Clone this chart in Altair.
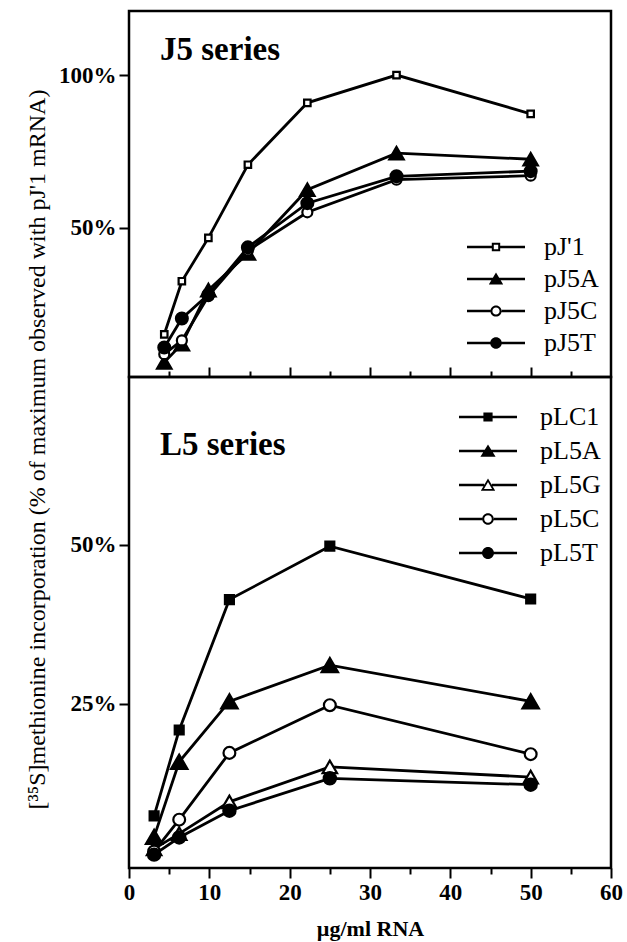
import altair as alt
import pandas as pd

# ---------------- data ----------------
j_dose = [4.39, 6.58, 9.88, 14.8, 22.2, 33.3, 50.0]
j_names = ["pJ'1", "pJ5A", "pJ5C", "pJ5T"]
pJ1 = [15.0, 32.4, 46.6, 70.6, 90.9, 100.0, 87.3]
pJ5A = [5.8, 11.8, 29.5, 41.5, 62.4, 74.4, 72.4]
pJ5C = [8.5, 13.0, 27.5, 42.5, 55.0, 65.7, 67.0]
pJ5T = [10.7, 20.2, 28.0, 43.5, 58.0, 66.8, 68.5]

l_dose = [3.125, 6.25, 12.5, 25.0, 50.0]
l_names = ["pLC1", "pL5A", "pL5G", "pL5C", "pL5T"]
pLC1 = [7.4, 20.9, 41.4, 49.8, 41.5]
pL5A = [4.1, 15.9, 25.4, 31.1, 25.4]
pL5G = [2.2, 4.6, 9.6, 15.1, 13.5]
pL5C = [1.8, 6.8, 17.3, 24.8, 17.1]
pL5T = [1.3, 4.0, 8.2, 13.3, 12.3]

x_ticks = [0, 5, 10, 15, 20, 25, 30, 35, 40, 45, 50, 55, 60]
inner_ticks = [5, 10, 15, 20, 25, 30, 35, 40, 45, 50, 55]
j_yticks = [50, 100]
l_yticks = [25, 50]

j_df = pd.DataFrame([
    {"series": n, "dose": d, "pct": v}
    for n, vals in zip(j_names, [pJ1, pJ5A, pJ5C, pJ5T])
    for d, v in zip(j_dose, vals)
])
l_df = pd.DataFrame([
    {"series": n, "dose": d, "pct": v}
    for n, vals in zip(l_names, [pLC1, pL5A, pL5G, pL5C, pL5T])
    for d, v in zip(l_dose, vals)
])

# ---------------- styles ----------------
SERIF = "Liberation Serif"
W = 482
H_UP = 366
H_LO = 491

j_style = {
    "pJ'1": dict(shape="square", fill="white", size=42),
    "pJ5A": dict(shape="triangle-up", fill="black", size=210),
    "pJ5C": dict(shape="circle", fill="white", size=100),
    "pJ5T": dict(shape="circle", fill="black", size=140),
}
l_style = {
    "pLC1": dict(shape="square", fill="black", size=80),
    "pL5A": dict(shape="triangle-up", fill="black", size=270),
    "pL5G": dict(shape="triangle-up", fill="white", size=210),
    "pL5C": dict(shape="circle", fill="white", size=140),
    "pL5T": dict(shape="circle", fill="black", size=150),
}

# legend glyphs: line + marker, drawn as filled outlines (nonzero winding)
L = 7.25
T = 0.33


def f(v):
    return f"{v:.3f}"


def hline(x0, x1):
    return f"M{f(x0)},{f(-T)}H{f(x1)}V{f(T)}H{f(x0)}Z"


def sq_cw(a):
    return f"M{f(-a)},{f(-a)}H{f(a)}V{f(a)}H{f(-a)}Z"


def sq_ccw(a):
    return f"M{f(-a)},{f(-a)}V{f(a)}H{f(a)}V{f(-a)}Z"


def circ_cw(r):
    return f"M{f(r)},0A{f(r)},{f(r)} 0 1,1 {f(-r)},0A{f(r)},{f(r)} 0 1,1 {f(r)},0Z"


def circ_ccw(r):
    return f"M{f(r)},0A{f(r)},{f(r)} 0 1,0 {f(-r)},0A{f(r)},{f(r)} 0 1,0 {f(r)},0Z"


def tri_pts(w, top, bot):
    return (-w, bot), (0, top), (w, bot)


def tri_cw(w, top, bot):
    (a, b), (c, d), (e, g) = tri_pts(w, top, bot)
    return f"M{f(a)},{f(b)}L{f(c)},{f(d)}L{f(e)},{f(g)}Z"


def tri_ccw(w, top, bot):
    (a, b), (c, d), (e, g) = tri_pts(w, top, bot)
    return f"M{f(a)},{f(b)}L{f(e)},{f(g)}L{f(c)},{f(d)}Z"


def glyph_open_square(a, s):
    return hline(-L, -a) + hline(a, L) + sq_cw(a) + sq_ccw(a - s)


def glyph_filled_square(a):
    return hline(-L, L) + sq_cw(a)


def glyph_open_circle(r, s):
    return hline(-L, -r) + hline(r, L) + circ_cw(r) + circ_ccw(r - s)


def glyph_filled_circle(r):
    return hline(-L, L) + circ_cw(r)


def glyph_filled_tri(w, top, bot):
    return hline(-L, L) + tri_cw(w, top, bot)


def glyph_open_tri(w, top, bot, s):
    xe = w * (-top) / (bot - top)
    side = (w * w + (bot - top) ** 2) ** 0.5
    area = w * (bot - top)
    semi = (2 * w + 2 * side) / 2
    rin = area / semi
    yc = bot - rin
    k = (rin - s) / rin
    w2, top2, bot2 = w * k, yc + (top - yc) * k, yc + (bot - yc) * k
    return hline(-L, -xe) + hline(xe, L) + tri_cw(w, top, bot) + tri_ccw(w2, top2, bot2)


j_leg_paths = [
    glyph_open_square(1.05, 0.5),
    glyph_filled_tri(1.8, -1.6, 1.4),
    glyph_open_circle(1.4, 0.5),
    glyph_filled_circle(1.45),
]
l_leg_paths = [
    glyph_filled_square(1.15),
    glyph_filled_tri(1.9, -1.65, 1.45),
    glyph_open_tri(1.8, -1.65, 1.45, 0.45),
    glyph_open_circle(1.45, 0.5),
    glyph_filled_circle(1.5),
]

tick_cond = {"condition": {"test": "datum.value % 10 !== 0", "value": 6}, "value": 10}

xs = alt.Scale(domain=[0, 60], nice=False, zero=False)


def y_axis(vals, title=None):
    kw = dict(
        values=vals, labelExpr="datum.value + '%'", domain=False, grid=False,
        tickSize=10, tickWidth=2, tickColor="black",
        labelFont=SERIF, labelFontWeight="bold", labelFontSize=23,
        labelColor="black", labelPadding=3,
    )
    if title is None:
        kw["title"] = None
    else:
        kw.update(title=title, titleFont=SERIF, titleFontSize=24,
                  titleFontWeight="normal", titleColor="black",
                  titleAngle=270, titleAlign="center", titleBaseline="middle",
                  titleX=-92, titleY=72)
    return alt.Axis(**kw)


def inner_axis(orient):
    return alt.Axis(orient=orient, values=inner_ticks, labels=False,
                    domain=False, grid=False, title=None,
                    tickSize=tick_cond, tickWidth=2, tickColor="black")


bottom_axis = alt.Axis(
    orient="bottom", values=x_ticks, domain=False, grid=False,
    labelExpr="datum.value % 10 === 0 ? datum.label : ''",
    tickSize=tick_cond, tickWidth=2, tickColor="black",
    labelFont=SERIF, labelFontWeight="bold", labelFontSize=23,
    labelColor="black", labelPadding=3, labelFlush=False, labelOverlap=False,
    title="µg/ml RNA", titleFont=SERIF, titleFontSize=22,
    titleFontWeight="bold", titleColor="black", titlePadding=14,
)


def panel(df, names, styles, paths, ydom, yaxis, height, label, label_y,
          leg_x, leg_y, leg_offset, row_pad, main_x_axis, leg_x_axis):
    ys = alt.Scale(domain=ydom, nice=False, zero=False)
    Y = alt.Y("pct:Q", scale=ys, axis=yaxis)
    lines = alt.Chart(df).mark_line(color="black", strokeWidth=2.8).encode(
        x=alt.X("dose:Q", scale=xs, axis=main_x_axis),
        y=Y,
        detail="series:N",
    )
    layers = [lines]
    for n in names:
        st = styles[n]
        layers.append(
            alt.Chart(df).transform_filter(alt.datum.series == n).mark_point(
                shape=st["shape"], filled=True, fill=st["fill"], stroke="black",
                strokeWidth=2.2, size=st["size"], opacity=1,
            ).encode(x=alt.X("dose:Q", scale=xs, axis=None), y=Y)
        )
    leg = alt.Legend(
        orient="none", legendX=leg_x, legendY=leg_y, title=None, padding=0,
        labelFont=SERIF, labelFontSize=26, labelColor="black",
        labelOffset=leg_offset, rowPadding=row_pad, symbolSize=64,
        symbolStrokeWidth=0, symbolFillColor="black", symbolOpacity=1,
        labelLimit=200,
    )
    legend_layer = alt.Chart(df).mark_point(
        filled=True, fill="black", opacity=0, strokeWidth=0
    ).encode(
        x=alt.X("dose:Q", scale=xs, axis=leg_x_axis),
        y=Y,
        shape=alt.Shape("series:N", scale=alt.Scale(domain=names, range=paths),
                        legend=leg),
    )
    layers.append(legend_layer)
    text = alt.Chart(pd.DataFrame({"t": [label]})).mark_text(
        align="left", baseline="alphabetic", font=SERIF, fontSize=33,
        fontWeight="bold", color="black",
    ).encode(x=alt.value(31), y=alt.value(label_y), text="t:N")
    layers.append(text)
    return alt.layer(*layers).properties(width=W, height=height)


upper = panel(j_df, j_names, j_style, j_leg_paths, [1, 121], y_axis(j_yticks),
              H_UP, "J5 series", 49, 354, 223, 35, 6,
              inner_axis("bottom"), inner_axis("bottom"))

lower = panel(l_df, l_names, l_style, l_leg_paths, [-0.8, 76.4],
              y_axis(l_yticks, "[³⁵S]methionine incorporation (% of maximum observed with pJ'1 mRNA)"),
              H_LO, "L5 series", 78, 346, 27, 39, 8,
              bottom_axis, inner_axis("top")).resolve_axis(x="independent")

chart = alt.vconcat(upper, lower, spacing=0, bounds="flush").resolve_scale(
    x="independent", y="independent", shape="independent"
).properties(
    padding={"left": 23, "top": 9, "right": 0, "bottom": 0},
    background="white",
).configure_view(stroke="black", strokeWidth=2.5)

chart.save("out.html", embed_options={"renderer": "svg", "actions": False})
